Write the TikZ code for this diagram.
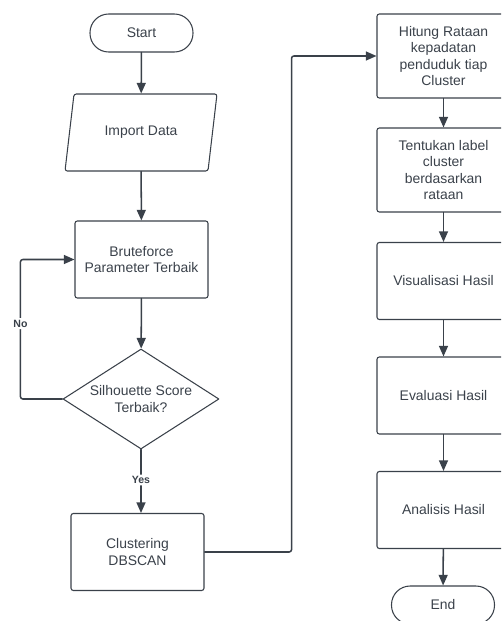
\documentclass[tikz,border=0pt]{standalone}
\usepackage{fontspec}
\setmainfont{Liberation Sans}
\usepackage{tikz}
\usepackage{xcolor}
\usetikzlibrary{shapes.geometric,arrows.meta}
\definecolor{linea}{HTML}{3A414A}

\begin{document}
\begin{tikzpicture}[x=0.03cm, y=-0.03cm, line cap=round, line join=round,
    every node/.style={font=\fontsize{11.9}{14.2}\selectfont, text=linea},
    caja/.style={draw=linea, line width=0.9pt, rectangle, rounded corners=2pt,
        minimum width=3.99cm, minimum height=2.31cm, align=center, inner sep=1pt},
    terminal/.style={draw=linea, line width=0.9pt, rectangle, rounded corners=0.56cm,
        minimum width=3.09cm, minimum height=1.14cm},
    entrada/.style={draw=linea, line width=0.9pt, trapezium, trapezium stretches=true,
        trapezium left angle=75, trapezium right angle=105, rounded corners=2pt,
        minimum width=4.56cm, minimum height=2.31cm},
    decision/.style={draw=linea, line width=0.9pt, diamond, aspect=1.56, inner sep=0pt,
        minimum width=4.68cm, minimum height=3cm, align=center},
    flecha/.style={draw=linea, line width=1.3pt, rounded corners=2pt,
        -{Triangle[length=0.32cm, width=0.27cm]}},
    etiqueta/.style={font=\bfseries\fontsize{9}{10}\selectfont, fill=white, inner sep=1.5pt}
]

% Marco del dibujo
\useasboundingbox (0,0) rectangle (501,621);
\clip (0,0) rectangle (501,621);

% === COLUMNA IZQUIERDA ===
\node[terminal] (start) at (141.5,33) {Start};
\node[entrada] (import) at (141,132.5) {Import Data};
\node[caja] (brute) at (141.5,259.5) {Bruteforce\\Parameter Terbaik};
\node[decision] (dec) at (141,399) {Silhouette Score\\Terbaik?};
\node[caja] (clus) at (137.5,552) {Clustering\\DBSCAN};

% === COLUMNA DERECHA ===
\node[caja, minimum height=2.52cm] (hitung) at (443.5,56) {Hitung Rataan\\kepadatan\\penduduk tiap\\Cluster};
\node[caja, minimum height=2.52cm] (label) at (443.5,170) {Tentukan label\\cluster\\berdasarkan\\rataan};
\node[caja] (visual) at (443.5,281) {Visualisasi Hasil};
\node[caja] (evalua) at (443.5,395.5) {Evaluasi Hasil};
\node[caja] (analis) at (443.5,510) {Analisis Hasil};
\node[terminal] (fin) at (443,605) {End};

% Flechas de la columna izquierda
\draw[flecha] (start) -- (import);
\draw[flecha] (import) -- (brute);
\draw[flecha] (brute) -- (dec);
\draw[flecha] (dec.south) -- node[etiqueta, pos=0.48] {Yes} (dec.south |- clus.north);
% Retorno (No)
\draw[flecha] (dec.west) -- ++(-42,0) |- node[etiqueta, pos=0.27] {No} (brute.west);

% Paso a la columna derecha
\draw[flecha] (clus.east) -- ++(87,0) |- (hitung.west);

% Flechas de la columna derecha
\draw[flecha] (hitung) -- (label);
\draw[flecha] (label) -- (visual);
\draw[flecha] (visual) -- (evalua);
\draw[flecha] (evalua) -- (analis);
\draw[flecha] (analis) -- (fin);

\end{tikzpicture}
\end{document}
